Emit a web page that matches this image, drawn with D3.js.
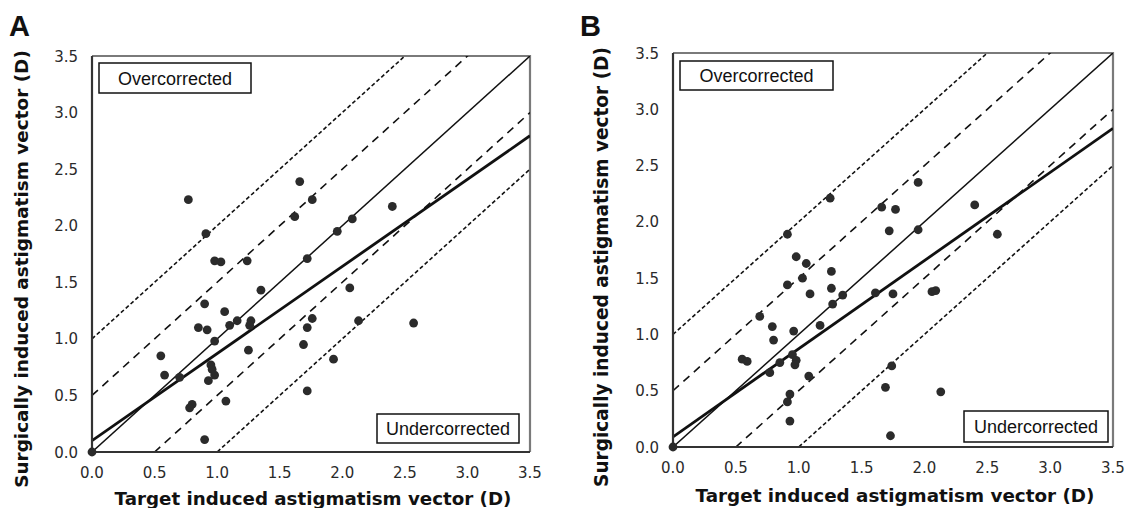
<!DOCTYPE html>
<html>
<head>
<meta charset="utf-8">
<script src="https://cdn.jsdelivr.net/npm/d3@7"></script>
<style>
	body { margin: 0; background: #fff; }
	svg { display: block; }
</style>
</head>
<body>
<div id="chart"></div>
<script>
// tick values for both axes (D)
var ticks = [0, 0.5, 1, 1.5, 2, 2.5, 3, 3.5];

// panel A: target induced (x) vs surgically induced (y)
var a_target = [0, 0.77, 0.91, 1.66, 1.76, 1.62, 1.96, 1.72, 0.98, 1.03, 1.24, 1.35, 0.90, 1.06, 0.85,
	0.92, 1.10, 1.16, 1.27, 1.26, 0.98, 0.55, 1.25, 0.58, 0.70, 0.95, 0.96, 0.98, 0.93, 1.07, 0.80,
	0.78, 0.90, 1.72, 1.76, 1.69, 1.93, 1.72, 2.40, 2.08, 2.06, 2.13, 2.57];
var a_surgical = [0, 2.23, 1.93, 2.39, 2.23, 2.08, 1.95, 1.71, 1.69, 1.68, 1.69, 1.43, 1.31, 1.24, 1.10,
	1.08, 1.12, 1.16, 1.16, 1.12, 0.98, 0.85, 0.90, 0.68, 0.66, 0.77, 0.73, 0.68, 0.63, 0.45, 0.42,
	0.39, 0.11, 1.10, 1.18, 0.95, 0.82, 0.54, 2.17, 2.06, 1.45, 1.16, 1.14];

// panel B
var b_target = [0, 1.25, 0.91, 1.95, 1.66, 1.77, 1.72, 1.95, 0.98, 1.06, 1.26, 1.03, 0.91, 1.26, 1.09,
	1.35, 1.27, 1.61, 1.75, 0.69, 0.79, 0.96, 1.17, 0.80, 0.55, 0.59, 0.85, 0.95, 0.98, 0.97, 0.77,
	1.08, 0.93, 0.91, 0.93, 1.74, 1.69, 1.73, 2.40, 2.58, 2.06, 2.09, 2.13];
var b_surgical = [0, 2.21, 1.89, 2.35, 2.13, 2.11, 1.92, 1.93, 1.69, 1.63, 1.56, 1.50, 1.44, 1.41, 1.36,
	1.35, 1.27, 1.37, 1.36, 1.16, 1.07, 1.03, 1.08, 0.95, 0.78, 0.76, 0.75, 0.82, 0.77, 0.73, 0.66,
	0.63, 0.47, 0.40, 0.23, 0.72, 0.53, 0.10, 2.15, 1.89, 1.38, 1.39, 0.49];

// regression lines: [intercept, slope]
var a_fit = [0.10, 0.77];
var b_fit = [0.09, 0.783];

// reference lines y = x + offset
var ref_offsets = [1, 0.5, -0.5, -1];

var chart_width = 1127;
var chart_height = 508;
var fmt = d3.format('.1f');

var svg = d3.select('#chart')
	.append('svg')
	.attr('width', chart_width)
	.attr('height', chart_height);

function fitText(sel, width) {
	var len = sel.node().getComputedTextLength();
	var fs = parseFloat(sel.style('font-size'));
	sel.style('font-size', (fs * width / len) + 'px');
}

function drawPanel(p) {
	var x_scale = d3.scaleLinear().domain([0, 3.5]).range([p.left, p.right]);
	var y_scale = d3.scaleLinear().domain([0, 3.5]).range([p.bottom, p.top]);

	var g = svg.append('g');

	g.append('clipPath')
		.attr('id', 'clip' + p.id)
		.append('rect')
		.attr('x', p.left)
		.attr('y', p.top)
		.attr('width', p.right - p.left)
		.attr('height', p.bottom - p.top);

	// frame: grey top/right
	g.append('path')
		.attr('d', 'M' + p.left + ',' + p.top + 'H' + p.right + 'V' + p.bottom)
		.attr('fill', 'none')
		.attr('stroke', '#7a7a7a')
		.attr('stroke-width', 2.2);

	var lines = g.append('g').attr('clip-path', 'url(#clip' + p.id + ')');
	var line = d3.line()
		.x(function(d){ return x_scale(d[0]); })
		.y(function(d){ return y_scale(d[1]); });

	ref_offsets.forEach(function(off){
		var far = Math.abs(off) > 0.75;
		lines.append('path')
			.attr('d', line([[0, off], [3.5, 3.5 + off]]))
			.attr('fill', 'none')
			.attr('stroke', '#111')
			.attr('stroke-width', 1.6)
			.attr('stroke-dasharray', far ? '4,2.5' : '8,6');
	});

	// identity
	lines.append('path')
		.attr('d', line([[0, 0], [3.5, 3.5]]))
		.attr('fill', 'none')
		.attr('stroke', '#111')
		.attr('stroke-width', 1.5);

	// regression
	lines.append('path')
		.attr('d', line([[0, p.fit[0]], [3.5, p.fit[0] + 3.5 * p.fit[1]]]))
		.attr('fill', 'none')
		.attr('stroke', '#111')
		.attr('stroke-width', 2.8);

	// axes (left/bottom)
	g.append('path')
		.attr('d', 'M' + p.left + ',' + p.top + 'V' + p.bottom + 'H' + p.right)
		.attr('fill', 'none')
		.attr('stroke', '#333')
		.attr('stroke-width', 2.2);

	// points
	var data = p.xs.map(function(v, i){ return [v, p.ys[i]]; });
	g.selectAll('circle')
		.data(data)
		.enter()
		.append('circle')
		.attr('cx', function(d){ return x_scale(d[0]); })
		.attr('cy', function(d){ return y_scale(d[1]); })
		.attr('r', 4.4)
		.attr('fill', '#2b2b2b');

	// tick labels
	g.selectAll('.ytick')
		.data(ticks)
		.enter()
		.append('text')
		.attr('class', 'ytick')
		.attr('x', p.left - 14)
		.attr('y', function(d){ return y_scale(d) + 5.5; })
		.attr('text-anchor', 'end')
		.style('font-family', 'Verdana, "DejaVu Sans", sans-serif')
		.style('font-size', '15px')
		.attr('fill', '#2a2a2a')
		.text(fmt);

	g.selectAll('.xtick')
		.data(ticks)
		.enter()
		.append('text')
		.attr('class', 'xtick')
		.attr('x', function(d){ return x_scale(d); })
		.attr('y', p.bottom + 26)
		.attr('text-anchor', 'middle')
		.style('font-family', 'Verdana, "DejaVu Sans", sans-serif')
		.style('font-size', '15px')
		.attr('fill', '#2a2a2a')
		.text(fmt);

	// axis titles
	var xt = g.append('text')
		.attr('x', p.xTitle[0])
		.attr('y', p.xTitle[1])
		.attr('text-anchor', 'middle')
		.style('font-family', 'Verdana, "DejaVu Sans", sans-serif')
		.style('font-weight', 'bold')
		.style('font-size', '18px')
		.attr('fill', '#111')
		.text('Target induced astigmatism vector (D)');
	fitText(xt, p.xTitle[2]);

	var yt = g.append('text')
		.attr('transform', 'translate(' + p.yTitle[0] + ',' + p.yTitle[1] + ') rotate(-90)')
		.attr('text-anchor', 'middle')
		.attr('dominant-baseline', 'central')
		.style('font-family', 'Verdana, "DejaVu Sans", sans-serif')
		.style('font-weight', 'bold')
		.style('font-size', '18px')
		.attr('fill', '#111')
		.text('Surgically induced astigmatism vector (D)');
	fitText(yt, p.yTitle[2]);

	// corner labels
	[p.over, p.under].forEach(function(b, i){
		g.append('rect')
			.attr('x', b[0])
			.attr('y', b[1])
			.attr('width', b[2])
			.attr('height', b[3])
			.attr('fill', '#fff')
			.attr('stroke', '#111')
			.attr('stroke-width', 1.5);
		g.append('text')
			.attr('x', b[0] + b[2] / 2)
			.attr('y', b[1] + b[3] / 2 + 6.5)
			.attr('text-anchor', 'middle')
			.style('font-family', 'Arial, "Liberation Sans", sans-serif')
			.style('font-size', '18px')
			.attr('fill', '#111')
			.text(i === 0 ? 'Overcorrected' : 'Undercorrected');
	});

	// panel letter
	g.append('text')
		.attr('x', p.letter[0])
		.attr('y', p.letter[1])
		.style('font-family', 'Arial, "Liberation Sans", sans-serif')
		.style('font-weight', 'bold')
		.style('font-size', '29px')
		.attr('fill', '#111')
		.text(p.id);
}

drawPanel({
	id: 'A', left: 92, right: 530, top: 56, bottom: 452,
	xs: a_target, ys: a_surgical, fit: a_fit,
	xTitle: [313, 505, 397], yTitle: [21, 269, 438],
	over: [99, 63, 152, 30], under: [377, 414, 142, 29],
	letter: [9, 36]
});

drawPanel({
	id: 'B', left: 673, right: 1113, top: 53, bottom: 447,
	xs: b_target, ys: b_surgical, fit: b_fit,
	xTitle: [895, 502, 399], yTitle: [601, 267, 440],
	over: [680, 61, 153, 29], under: [964, 411, 144, 31],
	letter: [580, 36]
});
</script>
</body>
</html>
